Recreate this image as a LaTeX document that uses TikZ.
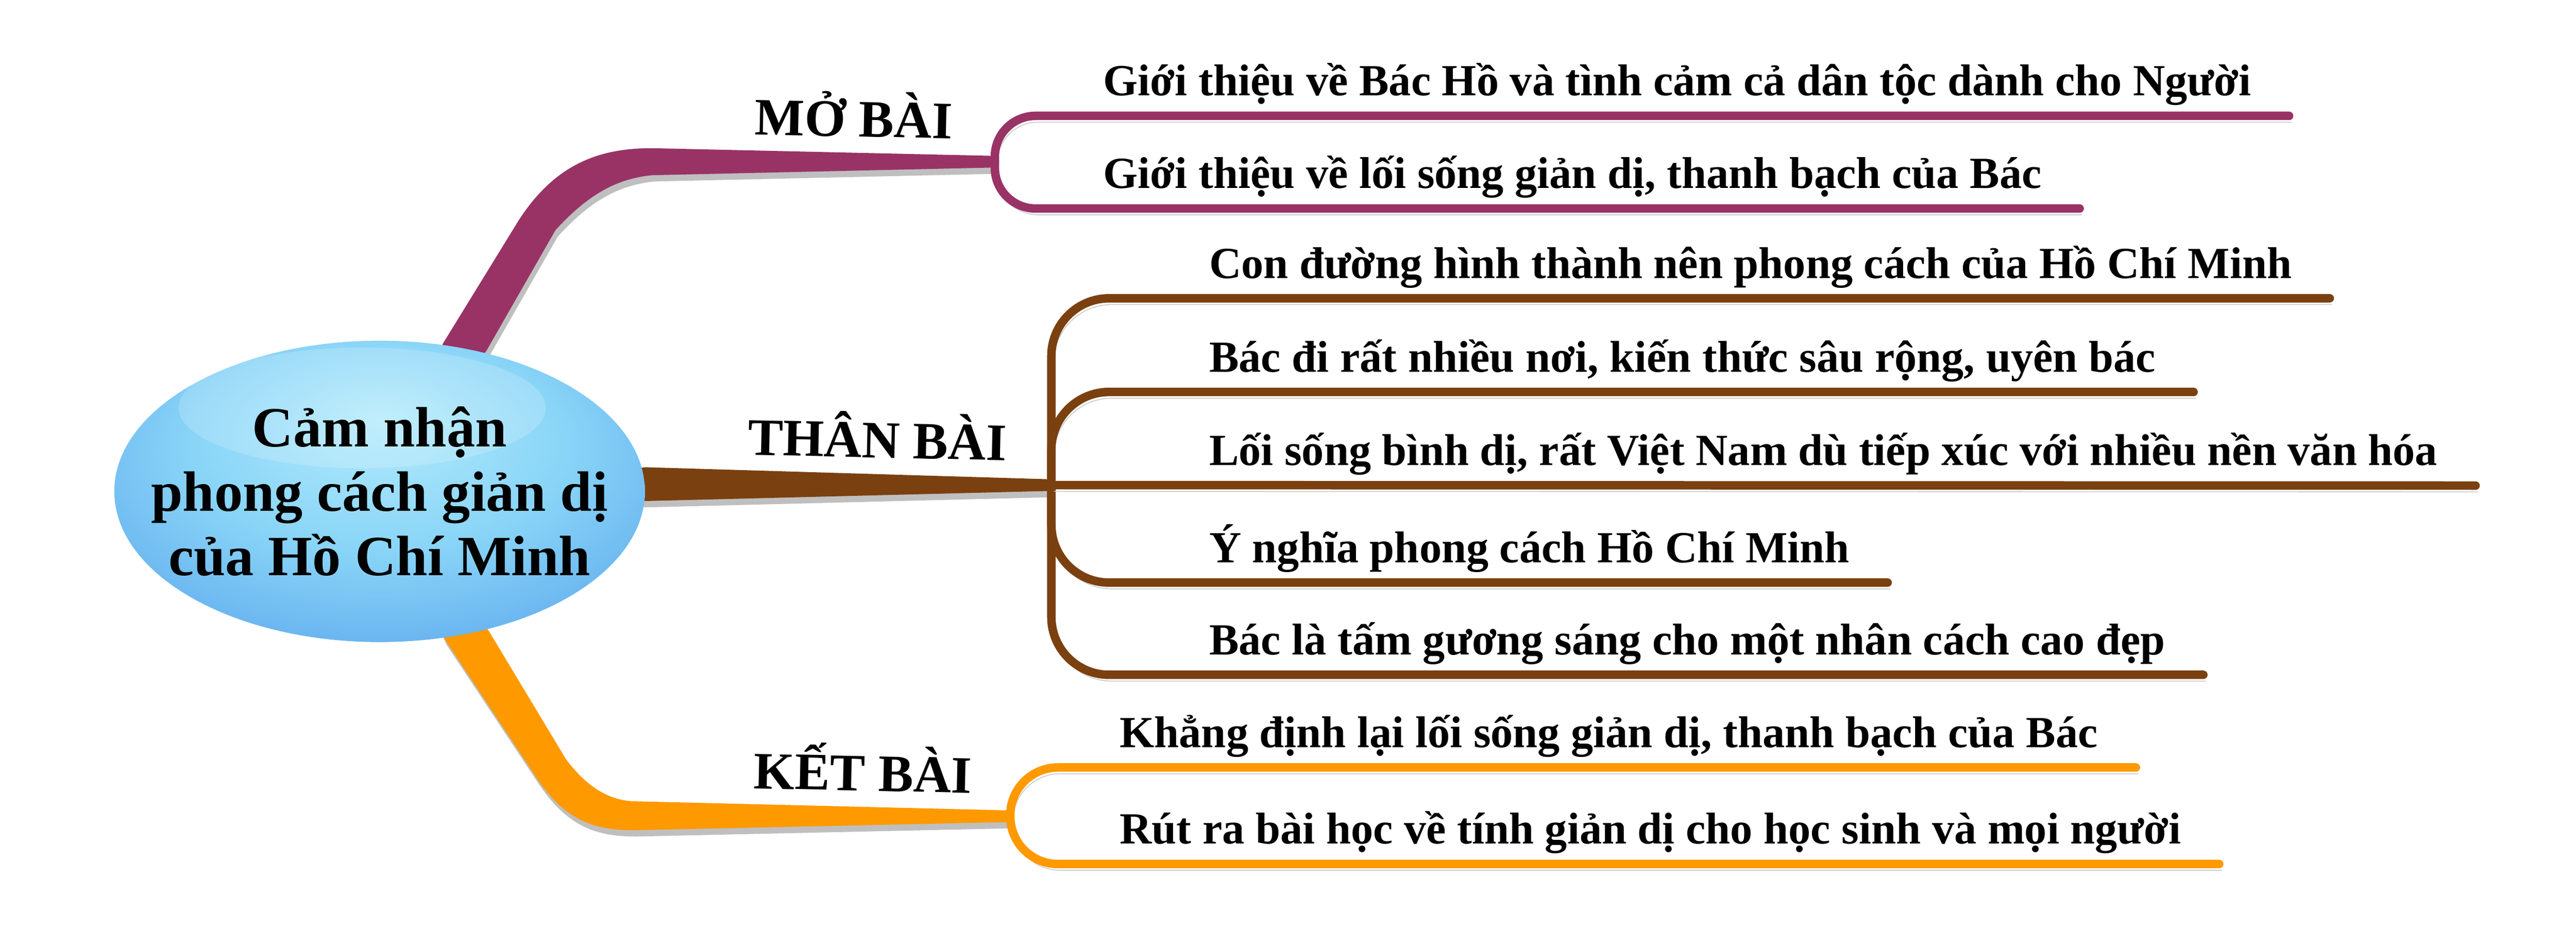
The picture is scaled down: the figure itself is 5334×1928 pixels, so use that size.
\documentclass[tikz,border=0pt]{standalone}
\usepackage{fontspec}
\setmainfont{Liberation Serif}
\usetikzlibrary{calc,backgrounds}

\definecolor{mocol}{HTML}{993366}
\definecolor{thancol}{HTML}{7B4010}
\definecolor{ketcol}{HTML}{FF9900}
\definecolor{shadowcol}{HTML}{BFBFBF}
\definecolor{bubtop}{HTML}{B3EBFC}
\definecolor{bubmid}{HTML}{88D4F7}
\definecolor{bubedge}{HTML}{5CA6EC}
\definecolor{bubrim}{HTML}{3F87E0}

\pgfdeclareradialshading{bubble}{\pgfpoint{0bp}{12bp}}{color(0bp)=(bubtop); color(18bp)=(bubmid); color(36bp)=(bubedge); color(50bp)=(bubrim)}

\tikzset{
  shadowed/.style={preaction={draw=shadowcol, transform canvas={xshift=1.4pt,yshift=-3.7pt}}},
  fshadowed/.style={preaction={fill=shadowcol, transform canvas={xshift=1.4pt,yshift=-3.7pt}}},
  twig/.style={line width=5pt, line cap=round, rounded corners=#1, shadowed},
  twig/.default=34pt,
  leaf/.style={anchor=south west, inner xsep=0.78cm, inner ysep=0pt, text depth=0.41cm,
    font=\bfseries\fontsize{26.2}{30}\selectfont},
  part/.style={anchor=base, rotate=-1.2, inner sep=0pt, font=\bfseries\fontsize{31}{36}\selectfont},
}

\begin{document}
\begin{tikzpicture}[x=0.01cm, y=-0.01cm]
\useasboundingbox (0,0) rectangle (5334,1928);

% centre
\node[align=center, inner sep=0pt, font=\bfseries\fontsize{33.5}{38}\selectfont] (root) at (786,1018)
  {Cảm nhận\\phong cách giản dị\\của Hồ Chí Minh};

% junctions
\coordinate (jmo) at (2060,335);
\coordinate (jthan) at (2177,1005);
\coordinate (jket) at (2092,1691);

% trunks and bubble
\begin{scope}[on background layer]
\fill[mocol, fshadowed] (root.center) -- (917,712) -- (1075,455)
  .. controls (1150,340) and (1240,307) .. (1350,307) -- ($(jmo)+(0,-12)$)
  -- ($(jmo)+(0,12)$) -- (1350,363) .. controls (1280,370) and (1220,400) .. (1150,477)
  -- (1007,727) -- cycle;
\fill[thancol, fshadowed] (root.center) -- (1337,968) -- ($(jthan)+(0,-12)$)
  -- ($(jthan)+(0,12)$) -- (1337,1038) -- cycle;
\fill[ketcol, fshadowed] (root.center) -- (920,1323) -- (1110,1610)
  .. controls (1170,1700) and (1230,1720) .. (1312,1720) -- ($(jket)+(0,12)$)
  -- ($(jket)+(0,-12)$) -- (1312,1660) .. controls (1260,1658) and (1215,1630) .. (1172,1573)
  -- (1012,1307) -- cycle;
\shade[shading=bubble] (root.center) ellipse [x radius=5.49cm, y radius=3.12cm];
\fill[white, opacity=0.18] (750,845) ellipse [x radius=3.8cm, y radius=1.25cm];
\end{scope}

% branch labels
\node[part] (mo) at (1767,283) {MỞ BÀI};
\node[part] (than) at (1816,948) {THÂN BÀI};
\node[part] (ket) at (1786,1638) {KẾT BÀI};

% leaves
\node[leaf] (mo1) at (2206,240) {Giới thiệu về Bác Hồ và tình cảm cả dân tộc dành cho Người};
\node[leaf] (mo2) at (2206,432) {Giới thiệu về lối sống giản dị, thanh bạch của Bác};
\node[leaf] (than1) at (2425,618) {Con đường hình thành nên phong cách của Hồ Chí Minh};
\node[leaf] (than2) at (2425,812) {Bác đi rất nhiều nơi, kiến thức sâu rộng, uyên bác};
\node[leaf] (than3) at (2425,1006) {Lối sống bình dị, rất Việt Nam dù tiếp xúc với nhiều nền văn hóa};
\node[leaf] (than4) at (2425,1207) {Ý nghĩa phong cách Hồ Chí Minh};
\node[leaf] (than5) at (2425,1398) {Bác là tấm gương sáng cho một nhân cách cao đẹp};
\node[leaf] (ket1) at (2240,1590) {Khẳng định lại lối sống giản dị, thanh bạch của Bác};
\node[leaf] (ket2) at (2240,1790) {Rút ra bài học về tính giản dị cho học sinh và mọi người};

% twigs
\draw[twig=24pt, mocol] (jmo) |- (mo1.south east);
\draw[twig=24pt, mocol] (jmo) |- (mo2.south east);
\draw[twig, thancol] (jthan) |- (than1.south east);
\draw[twig, thancol] (jthan) |- (than5.south east);
\draw[twig, thancol] (jthan) |- (than2.south east);
\draw[twig, thancol] (jthan) |- (than4.south east);
\draw[twig, thancol] (jthan) -- (than3.south east);
\draw[twig=28pt, ketcol] (jket) |- (ket1.south east);
\draw[twig=28pt, ketcol] (jket) |- (ket2.south east);
\end{tikzpicture}
\end{document}
